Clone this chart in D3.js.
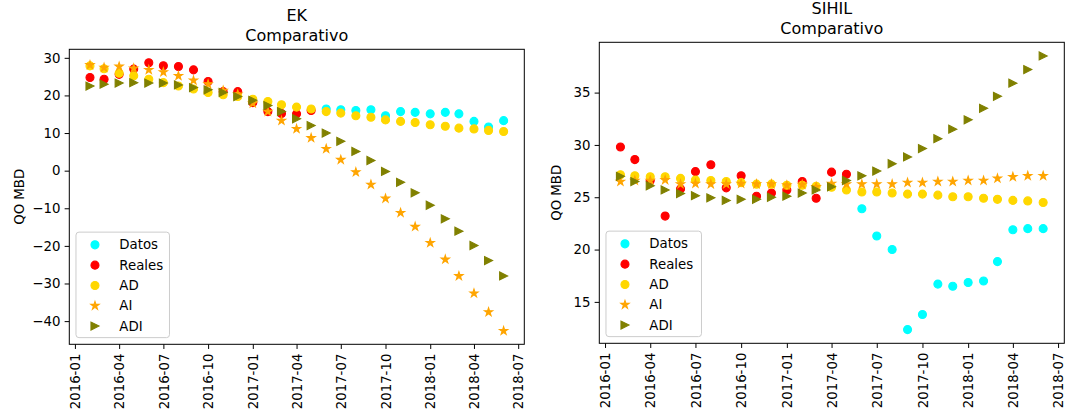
<!DOCTYPE html>
<html>
<head>
<meta charset="utf-8">
<script src="https://cdn.jsdelivr.net/npm/d3@7"></script>
<style>
  body { margin: 0; background: #fff; }
  svg { display: block; font-family: "DejaVu Sans", sans-serif; }
</style>
</head>
<body>
<svg id="chart" width="1066" height="418"></svg>
<script>
// ---------------- DATA ----------------
const months = ["2016-02","2016-03","2016-04","2016-05","2016-06","2016-07","2016-08","2016-09","2016-10","2016-11","2016-12",
  "2017-01","2017-02","2017-03","2017-04","2017-05","2017-06","2017-07","2017-08","2017-09","2017-10","2017-11","2017-12",
  "2018-01","2018-02","2018-03","2018-04","2018-05","2018-06"];

const seriesNames = ["Datos", "Reales", "AD", "AI", "ADI"];
const xTickLabels = ["2016-01","2016-04","2016-07","2016-10","2017-01","2017-04","2017-07","2017-10","2018-01","2018-04","2018-07"];

// EK
const ekDatos  = [null,null,null,null,null,null,null,null,null,null,null,null,null,null,null,null,
  16.4,16.2,16.0,16.2,14.6,15.7,15.5,15.1,15.5,15.1,13.1,11.6,13.3];
const ekReales = [24.75,24.3,25.6,27.0,28.7,27.9,27.7,26.8,23.7,21.0,21.0,18.1,15.7,15.2,15.1,16.0,
  null,null,null,null,null,null,null,null,null,null,null,null,null];
const ekAD  = [27.85,27.1,25.9,25.2,24.3,23.4,22.5,21.7,20.8,20.2,19.7,19.0,18.4,17.5,16.9,16.4,15.7,15.3,14.6,14.2,13.5,13.1,12.8,12.2,11.8,11.3,11.1,10.7,10.4];
const ekAI  = [28.1,27.4,27.7,27.2,26.8,26.2,25.2,24.0,23.0,21.3,20.3,17.9,15.7,13.3,11.1,8.7,5.8,2.9,-0.4,-3.7,-7.4,-11.2,-14.9,-19.2,-23.6,-28.0,-32.6,-37.6,-42.6];
const ekADI = [22.5,23.0,23.3,23.4,23.3,23.3,22.8,22.1,21.5,20.8,19.7,18.7,17.3,15.7,13.8,12.0,10.0,7.8,5.1,2.7,-0.2,-3.1,-5.9,-9.2,-12.8,-16.1,-19.9,-23.9,-28.0];
const ekYTicks = [-40,-30,-20,-10,0,10,20,30];

// SIHIL
const sihilDatos  = [null,null,null,null,null,null,null,null,null,null,null,null,null,null,null,null,
  23.9,21.3,20.0,12.35,13.8,16.7,16.5,16.85,17.0,18.85,21.9,22.0,22.0];
const sihilReales = [29.8,28.6,26.6,23.2,25.8,27.45,28.1,25.9,27.05,25.1,25.4,25.7,26.5,24.9,27.4,27.2,
  null,null,null,null,null,null,null,null,null,null,null,null,null];
const sihilAD  = [27.15,27.05,26.95,26.95,26.8,26.65,26.6,26.5,26.4,26.25,26.25,26.15,26.15,26.05,25.95,25.7,25.5,25.5,25.4,25.3,25.3,25.2,25.05,25.05,24.9,24.8,24.7,24.65,24.5];
const sihilAI  = [26.5,26.6,26.6,26.65,26.25,26.3,26.25,26.25,26.3,26.25,26.25,26.15,26.2,26.0,26.3,26.25,26.25,26.25,26.25,26.4,26.4,26.5,26.5,26.6,26.6,26.8,26.95,27.05,27.05];
const sihilADI = [27.0,26.5,26.1,25.7,25.35,25.15,24.95,24.7,24.8,24.8,25.0,25.1,25.4,25.7,26.0,26.6,27.05,27.5,28.2,28.85,29.65,30.6,31.5,32.4,33.5,34.65,35.9,37.2,38.5];
const sihilYTicks = [15,20,25,30,35];

// ---------------- STYLE ----------------
const colors  = { Datos: "#00ffff", Reales: "#ff0000", AD: "#ffd700", AI: "#ffa500", ADI: "#808000" };
const shapes  = { Datos: "circle", Reales: "circle", AD: "circle", AI: "star", ADI: "tri" };

const parse = d3.timeParse("%Y-%m");
const dates = months.map(parse);
const xTickDates = xTickLabels.map(parse);

const svg = d3.select("#chart");
const FS = 13.33;

function markerPath(shape) {
  if (shape === "circle") {
    const r = 4;
    return `M${r},0A${r},${r},0,1,1,${-r},0A${r},${r},0,1,1,${r},0Z`;
  }
  if (shape === "star") {
    const R = 4.3, r = R * 0.381966;
    let p = "";
    for (let i = 0; i < 10; i++) {
      const rad = i % 2 === 0 ? R : r;
      const a = -Math.PI / 2 + i * Math.PI / 5;
      p += (i === 0 ? "M" : "L") + (rad * Math.cos(a)).toFixed(3) + "," + (rad * Math.sin(a)).toFixed(3);
    }
    return p + "Z";
  }
  // right-pointing triangle
  const s = 4;
  return `M${s},0L${-s},${-s}L${-s},${s}Z`;
}

function drawPanel(cfg) {
  const { left, top, width, height, title, series, yTicks } = cfg;
  const g = svg.append("g");

  const allVals = series.flatMap(s => s.values.filter(v => v != null));
  const yMin = d3.min(allVals), yMax = d3.max(allVals);
  const yPad = (yMax - yMin) * 0.05;
  const t0 = +dates[0], t1 = +dates[dates.length - 1];
  const tPad = (t1 - t0) * 0.05;

  const x = d3.scaleTime().domain([new Date(t0 - tPad), new Date(t1 + tPad)]).range([left, left + width]);
  const y = d3.scaleLinear().domain([yMin - yPad, yMax + yPad]).range([top + height, top]);

  // points
  series.forEach(s => {
    const pts = dates.map((d, i) => ({ d, v: s.values[i] })).filter(p => p.v != null);
    g.append("g").selectAll("path").data(pts).join("path")
      .attr("d", markerPath(shapes[s.name]))
      .attr("transform", p => `translate(${x(p.d)},${y(p.v)})`)
      .attr("fill", colors[s.name])
      .attr("stroke", colors[s.name])
      .attr("stroke-width", 1.1);
  });

  // axes
  const fmtY = d => (d < 0 ? "\u2212" + Math.abs(d) : String(d));
  const yAxis = g.append("g").attr("transform", `translate(${left},0)`)
    .call(d3.axisLeft(y).tickValues(yTicks).tickFormat(fmtY).tickSize(4.67).tickPadding(4.2).tickSizeOuter(0));
  yAxis.select(".domain").remove();
  yAxis.selectAll("text").attr("font-size", FS).attr("fill", "#000").attr("font-family", "DejaVu Sans");
  yAxis.selectAll("line").attr("stroke", "#000").attr("stroke-width", 1);

  const xAxis = g.append("g").attr("transform", `translate(0,${top + height})`)
    .call(d3.axisBottom(x).tickValues(xTickDates).tickFormat(d3.timeFormat("%Y-%m")).tickSize(4.67).tickSizeOuter(0));
  xAxis.select(".domain").remove();
  xAxis.selectAll("line").attr("stroke", "#000").attr("stroke-width", 1);
  xAxis.selectAll("text")
    .attr("font-size", FS).attr("fill", "#000").attr("font-family", "DejaVu Sans")
    .attr("text-anchor", "end")
    .attr("transform", "rotate(-90)")
    .attr("x", -9.3).attr("y", 0).attr("dy", "0.35em");

  // frame
  g.append("rect").attr("x", left).attr("y", top).attr("width", width).attr("height", height)
    .attr("fill", "none").attr("stroke", "#000").attr("stroke-width", 1);

  // title
  const cx = left + width / 2;
  g.append("text").attr("x", cx).attr("y", top - 8 - 20).attr("text-anchor", "middle")
    .attr("font-size", 16).attr("fill", "#000").text(title[0]);
  g.append("text").attr("x", cx).attr("y", top - 8).attr("text-anchor", "middle")
    .attr("font-size", 16).attr("fill", "#000").text(title[1]);

  // y label
  g.append("text")
    .attr("transform", `translate(${cfg.ylabelX},${top + height / 2}) rotate(-90)`)
    .attr("text-anchor", "middle").attr("font-size", FS).attr("fill", "#000").text("QO MBD");

  // legend
  const lx = left + 6.67, lh = 105.5, lw = cfg.legendW, ly = top + height - 6.67 - lh;
  const lg = g.append("g").attr("transform", `translate(${lx},${ly})`);
  lg.append("rect").attr("width", lw).attr("height", lh).attr("rx", 3).attr("ry", 3)
    .attr("fill", "#fff").attr("fill-opacity", 0.8).attr("stroke", "#cccccc").attr("stroke-width", 1);
  seriesNames.forEach((name, i) => {
    const ry = 12.7 + i * 20.3;
    lg.append("path").attr("d", markerPath(shapes[name]))
      .attr("transform", `translate(19,${ry})`)
      .attr("fill", colors[name]).attr("stroke", colors[name]).attr("stroke-width", 1.1);
    lg.append("text").attr("x", 43.3).attr("y", ry).attr("dy", "0.35em")
      .attr("font-size", FS).attr("fill", "#000").text(name);
  });
}

drawPanel({
  left: 69.3, top: 49.3, width: 455, height: 295,
  title: ["EK", "Comparativo"], yTicks: ekYTicks, ylabelX: 23.5, legendW: 93.5,
  series: [
    { name: "Datos", values: ekDatos },
    { name: "Reales", values: ekReales },
    { name: "AD", values: ekAD },
    { name: "AI", values: ekAI },
    { name: "ADI", values: ekADI }
  ]
});

drawPanel({
  left: 599.3, top: 42.3, width: 465, height: 301,
  title: ["SIHIL", "Comparativo"], yTicks: sihilYTicks, ylabelX: 561, legendW: 95.5,
  series: [
    { name: "Datos", values: sihilDatos },
    { name: "Reales", values: sihilReales },
    { name: "AD", values: sihilAD },
    { name: "AI", values: sihilAI },
    { name: "ADI", values: sihilADI }
  ]
});
</script>
</body>
</html>
